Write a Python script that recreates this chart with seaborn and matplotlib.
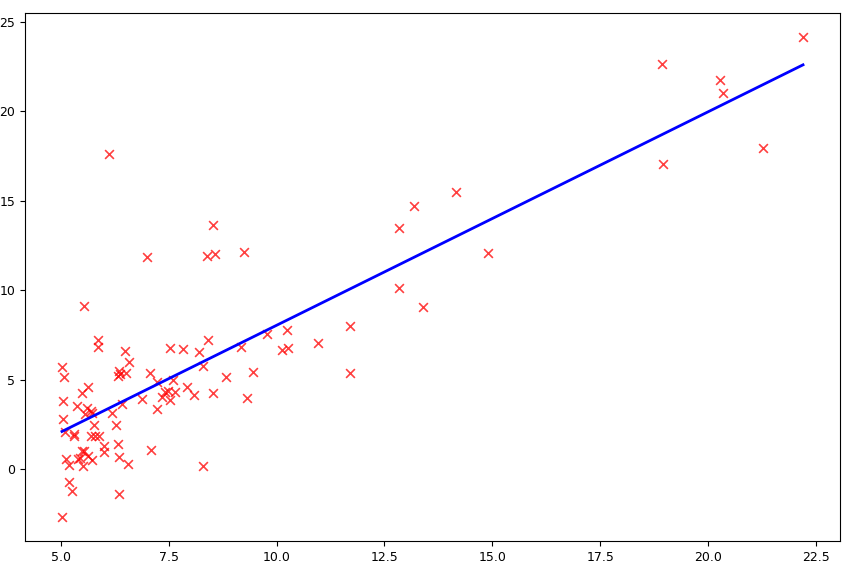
import matplotlib
matplotlib.use('Agg')
import pandas as pd
import matplotlib.pyplot as plt
import seaborn as sns

# population (10,000s) and profit ($10,000s)
population = [6.1101, 5.5277, 8.5186, 7.0032, 5.8598, 8.3829, 7.4764, 8.5781, 6.4862, 5.0546,
              5.7107, 14.164, 5.734, 8.4084, 5.6407, 5.3794, 6.3654, 5.1301, 6.4296, 7.0708,
              6.1891, 20.27, 5.4901, 6.3261, 5.5649, 18.945, 12.828, 10.957, 13.176, 22.203,
              5.2524, 6.5894, 9.2482, 5.8918, 8.2111, 7.9334, 8.0959, 5.6063, 12.836, 6.3534,
              5.4069, 6.8825, 11.708, 5.7737, 7.8247, 7.0931, 5.0702, 5.8014, 11.7, 5.5416,
              7.5402, 5.3077, 7.4239, 7.6031, 6.3328, 6.3589, 6.2742, 5.6397, 9.3102, 9.4536,
              8.8254, 5.1793, 21.279, 14.908, 18.959, 7.2182, 8.2951, 10.236, 5.4994, 20.341,
              10.136, 7.3345, 6.0062, 7.2259, 5.0269, 6.5479, 7.5386, 5.0365, 10.274, 5.1077,
              5.7292, 5.1884, 6.3557, 9.7687, 6.5159, 8.5172, 9.1802, 6.002, 5.5204, 5.0594,
              5.7077, 7.6366, 5.8707, 5.3054, 8.2934, 13.394, 5.4369]
profit = [17.592, 9.1302, 13.662, 11.854, 6.8233, 11.886, 4.3483, 12.0, 6.5987, 3.8166,
          3.2522, 15.505, 3.1551, 7.2258, 0.71618, 3.5129, 5.3048, 0.56077, 3.6518, 5.3893,
          3.1386, 21.767, 4.263, 5.1875, 3.0825, 22.638, 13.501, 7.0467, 14.692, 24.147,
          -1.22, 5.9966, 12.134, 1.8495, 6.5426, 4.5623, 4.1164, 3.3928, 10.117, 5.4974,
          0.55657, 3.9115, 5.3854, 2.4406, 6.7318, 1.0463, 5.1337, 1.844, 8.0043, 1.0179,
          6.7504, 1.8396, 4.2885, 4.9981, 1.4233, -1.4211, 2.4756, 4.6042, 3.9624, 5.4141,
          5.1694, -0.74279, 17.929, 12.054, 17.054, 4.8852, 5.7442, 7.7754, 1.0173, 20.992,
          6.6799, 4.0259, 1.2784, 3.3411, -2.6807, 0.29678, 3.8845, 5.7014, 6.7526, 2.0576,
          0.47953, 0.20421, 0.67861, 7.5435, 5.3436, 4.2415, 6.7981, 0.92695, 0.152, 2.8214,
          1.8451, 4.2959, 7.2029, 1.9869, 0.14454, 9.0551, 0.61705]

df = pd.DataFrame({'Population': population, 'Profit': profit})

fig = plt.figure(figsize=(8.57, 5.67), dpi=100)
ax = fig.add_axes([25 / 857, 26 / 567, 815 / 857, 528 / 567])

sns.scatterplot(data=df, x='Population', y='Profit', marker='x', color='red',
                alpha=0.75, s=40, linewidth=1.2, ax=ax)
# least squares fit line over the data range
sns.regplot(data=df, x='Population', y='Profit', scatter=False, ci=None,
            color='blue', line_kws={'linewidth': 2}, ax=ax)

ax.set_xlim(4.17, 23.06)
ax.set_ylim(-4.02, 25.49)
ax.tick_params(labelsize=9)
ax.set_xlabel('Population of City in 10,000s', fontsize=9, color='#cccccc')
ax.set_ylabel('')

fig.savefig('out.png', dpi=100)
